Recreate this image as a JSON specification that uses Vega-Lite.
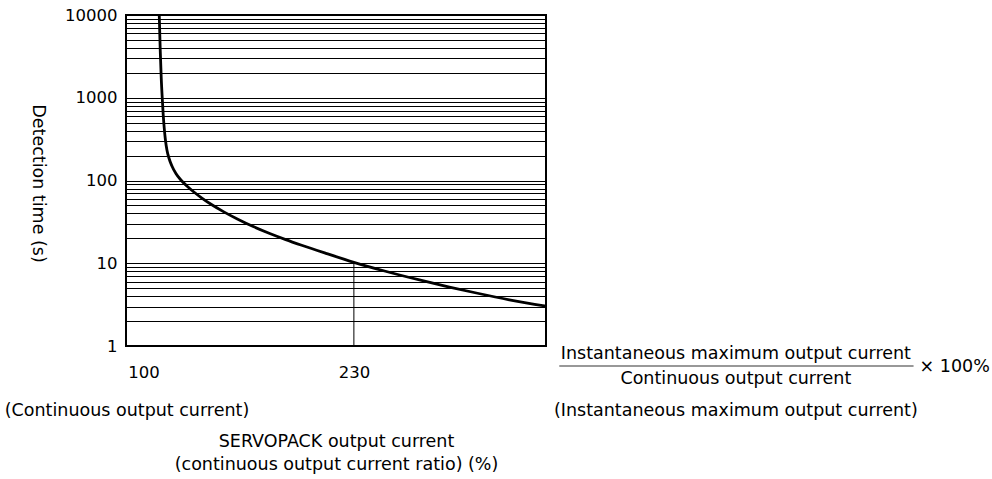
{
  "$schema": "https://vega.github.io/schema/vega-lite/v6.json",
  "autosize": "none",
  "width": 420,
  "height": 331,
  "padding": {"left": 126, "top": 15, "right": 446, "bottom": 133},
  "background": "white",
  "config": {
    "view": {"stroke": "black", "strokeWidth": 2},
    "font": "DejaVu Sans",
    "text": {"font": "DejaVu Sans", "fontSize": 17.5, "color": "black"}
  },
  "datasets": {
    "curve": [
      {"current": 109.74, "time": 10000},
      {"current": 110.35, "time": 3776},
      {"current": 110.97, "time": 1733},
      {"current": 111.59, "time": 993},
      {"current": 112.20, "time": 619},
      {"current": 112.82, "time": 431},
      {"current": 113.56, "time": 308.6},
      {"current": 114.49, "time": 233.6},
      {"current": 115.72, "time": 187.0},
      {"current": 117.57, "time": 149.7},
      {"current": 120.04, "time": 121.5},
      {"current": 123.12, "time": 101.4},
      {"current": 126.82, "time": 85.8},
      {"current": 131.14, "time": 72.6},
      {"current": 136.07, "time": 61.4},
      {"current": 142.24, "time": 50.9},
      {"current": 149.64, "time": 41.8},
      {"current": 158.27, "time": 34.07},
      {"current": 168.14, "time": 27.57},
      {"current": 178.01, "time": 22.88},
      {"current": 187.87, "time": 19.32},
      {"current": 197.74, "time": 16.52},
      {"current": 211.93, "time": 13.34},
      {"current": 230, "time": 10.27},
      {"current": 248.93, "time": 8.06},
      {"current": 270.51, "time": 6.28},
      {"current": 289.02, "time": 5.16},
      {"current": 305.67, "time": 4.37},
      {"current": 326.02, "time": 3.62},
      {"current": 348.7, "time": 3.04}
    ],
    "marker": [{"current": 230, "t1": 1, "t2": 10}],
    "labels": [
      {"x": 89.8, "y": 0.1638, "text": "(Continuous output current)"},
      {"x": 466.0, "y": 0.1638, "text": "(Instantaneous maximum output current)"},
      {"x": 466.0, "y": 0.8003, "text": "Instantaneous maximum output current"},
      {"x": 466.0, "y": 0.3993, "text": "Continuous output current"}
    ],
    "times": [{"x": 579.5, "y": 0.5574, "text": "× 100%"}],
    "fraction": [{"x1": 356.9, "x2": 575.8, "y": 0.5733}]
  },
  "layer": [
    {
      "data": {"name": "curve"},
      "mark": {"type": "line", "color": "black", "strokeWidth": 2.8, "interpolate": "monotone"},
      "encoding": {
        "x": {
          "field": "current",
          "type": "quantitative",
          "scale": {"domain": [89.2, 348.7], "nice": false, "zero": false},
          "axis": {
            "values": [100, 230],
            "grid": false,
            "ticks": false,
            "tickSize": 0,
            "domain": false,
            "labelFont": "DejaVu Sans",
            "labelFontSize": 16.5,
            "labelColor": "black",
            "labelPadding": 18,
            "labelFlush": false,
            "title": ["SERVOPACK output current", "(continuous output current ratio) (%)"],
            "titleFont": "DejaVu Sans",
            "titleFontSize": 17.5,
            "titleFontWeight": "normal",
            "titleColor": "black",
            "titleLineHeight": 23,
            "titleBaseline": "alphabetic",
            "titleAlign": "center",
            "titleX": 210,
            "titleY": 100
          }
        },
        "y": {
          "field": "time",
          "type": "quantitative",
          "scale": {"type": "log", "domain": [1, 10000], "nice": false},
          "axis": {
            "values": [1, 2, 3, 4, 5, 6, 7, 8, 9, 10, 20, 30, 40, 50, 60, 70, 80, 90, 100, 200, 300, 400, 500, 600, 700, 800, 900, 1000, 2000, 3000, 4000, 5000, 6000, 7000, 8000, 9000, 10000],
            "format": "d",
            "labelExpr": "(datum.value == 1 || datum.value == 10 || datum.value == 100 || datum.value == 1000 || datum.value == 10000) ? datum.label : ''",
            "labelOverlap": false,
            "grid": true,
            "gridColor": "black",
            "gridWidth": 1,
            "gridOpacity": 1,
            "ticks": false,
            "tickSize": 0,
            "domain": false,
            "labelFont": "DejaVu Sans",
            "labelFontSize": 16.5,
            "labelColor": "black",
            "labelPadding": 9,
            "title": "Detection time (s)",
            "titleFont": "DejaVu Sans",
            "titleFontSize": 17.5,
            "titleFontWeight": "normal",
            "titleColor": "black",
            "titleAngle": 90,
            "titleAlign": "center",
            "titleBaseline": "middle",
            "titleX": -89,
            "titleY": 168
          }
        }
      }
    },
    {
      "data": {"name": "marker"},
      "mark": {"type": "rule", "color": "black", "strokeWidth": 1},
      "encoding": {
        "x": {"field": "current", "type": "quantitative"},
        "y": {"field": "t1", "type": "quantitative"},
        "y2": {"field": "t2"}
      }
    },
    {
      "data": {"name": "labels"},
      "mark": {"type": "text", "align": "center", "baseline": "middle", "clip": false},
      "encoding": {
        "x": {"field": "x", "type": "quantitative"},
        "y": {"field": "y", "type": "quantitative"},
        "text": {"field": "text"}
      }
    },
    {
      "data": {"name": "times"},
      "mark": {"type": "text", "align": "left", "baseline": "middle", "clip": false},
      "encoding": {
        "x": {"field": "x", "type": "quantitative"},
        "y": {"field": "y", "type": "quantitative"},
        "text": {"field": "text"}
      }
    },
    {
      "data": {"name": "fraction"},
      "mark": {"type": "rule", "color": "#333", "strokeWidth": 1.2, "clip": false},
      "encoding": {
        "x": {"field": "x1", "type": "quantitative"},
        "x2": {"field": "x2"},
        "y": {"field": "y", "type": "quantitative"}
      }
    }
  ]
}
